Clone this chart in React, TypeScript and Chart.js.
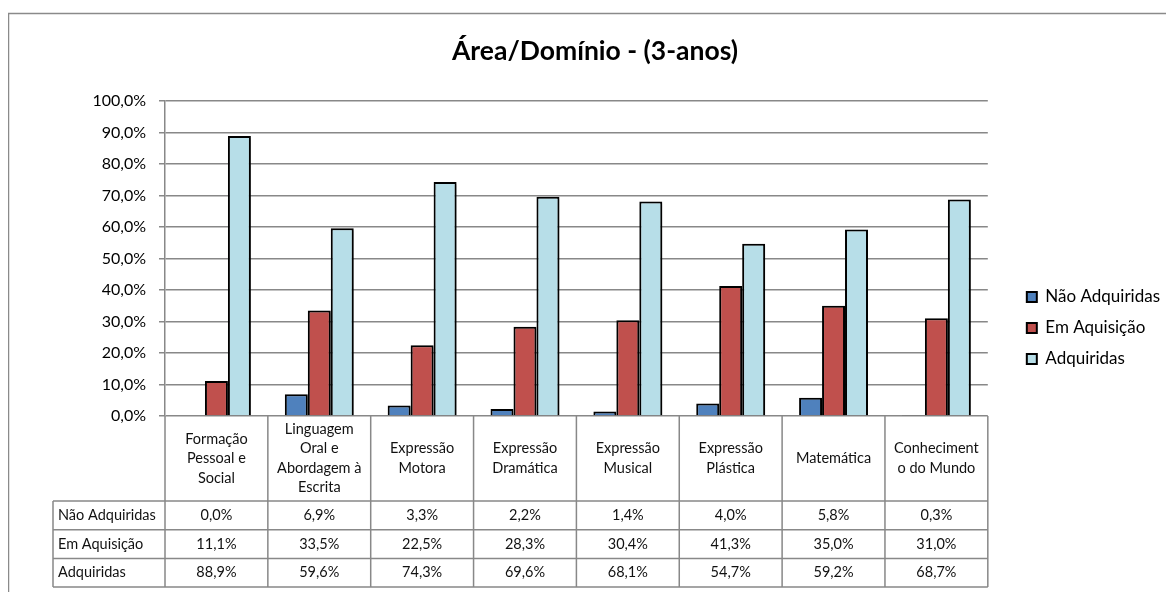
import React, { useEffect, useRef } from "react";
import { Chart, registerables } from "chart.js";

Chart.register(...registerables);

const TITLE = "Área/Domínio - (3-anos)";
const CATEGORIES: string[][] = [
  ["Formação", "Pessoal e", "Social"],
  ["Linguagem", "Oral e", "Abordagem à", "Escrita"],
  ["Expressão", "Motora"],
  ["Expressão", "Dramática"],
  ["Expressão", "Musical"],
  ["Expressão", "Plástica"],
  ["Matemática"],
  ["Conheciment", "o do Mundo"],
];
const SERIES_NAMES = ["Não Adquiridas", "Em Aquisição", "Adquiridas"];
const NAO_ADQUIRIDAS = [0.0, 6.9, 3.3, 2.2, 1.4, 4.0, 5.8, 0.3];
const EM_AQUISICAO = [11.1, 33.5, 22.5, 28.3, 30.4, 41.3, 35.0, 31.0];
const ADQUIRIDAS = [88.9, 59.6, 74.3, 69.6, 68.1, 54.7, 59.2, 68.7];
const SERIES_COLORS = ["#4F81BD", "#C0504D", "#B7DEE8"];

const FONT = "Lato, 'Open Sans', sans-serif";
const GRID = "#888888";

const fmt = (v: number) => v.toFixed(1).replace(".", ",") + "%";

const framePlugin = {
  id: "frame",
  beforeDraw(chart: any) {
    const { ctx, width, height } = chart;
    ctx.save();
    ctx.fillStyle = "#ffffff";
    ctx.fillRect(0, 0, width, height);
    ctx.strokeStyle = "#8a8a8a";
    ctx.lineWidth = 1.5;
    ctx.strokeRect(0.5, 5.5, width + 20, height + 20);
    // chart title
    ctx.fillStyle = "#000000";
    ctx.font = `bold 26.5px ${FONT}`;
    ctx.textAlign = "center";
    ctx.textBaseline = "middle";
    ctx.fillText(TITLE, 587, 43);
    ctx.restore();
  },
};

const shadowPlugin = {
  id: "barShadow",
  beforeDatasetsDraw(chart: any) {
    const ctx = chart.ctx;
    ctx.save();
    ctx.shadowColor = "rgba(0,0,0,0.35)";
    ctx.shadowBlur = 3;
    ctx.shadowOffsetX = 2;
    ctx.shadowOffsetY = 2;
  },
  afterDatasetsDraw(chart: any) {
    chart.ctx.restore();
  },
};

const tablePlugin = {
  id: "dataTable",
  afterDraw(chart: any) {
    const { ctx, chartArea } = chart;
    const series = [NAO_ADQUIRIDAS, EM_AQUISICAO, ADQUIRIDAS];
    const n = CATEGORIES.length;
    const catW = (chartArea.right - chartArea.left) / n;
    const top = chartArea.bottom;
    const headerBottom = top + 85;
    const rowH = 28.7;
    const labelLeft = 45;
    const tableBottom = headerBottom + rowH * 3;

    ctx.save();
    ctx.strokeStyle = GRID;
    ctx.lineWidth = 1.5;
    ctx.beginPath();
    for (let i = 0; i <= n; i++) {
      const x = chartArea.left + i * catW;
      ctx.moveTo(x, top);
      ctx.lineTo(x, tableBottom);
    }
    ctx.moveTo(labelLeft, headerBottom);
    ctx.lineTo(labelLeft, tableBottom);
    for (let r = 0; r <= 3; r++) {
      const y = headerBottom + r * rowH;
      ctx.moveTo(labelLeft, y);
      ctx.lineTo(chartArea.right, y);
    }
    ctx.stroke();

    ctx.fillStyle = "#111111";
    ctx.font = `14.5px ${FONT}`;
    ctx.textAlign = "center";
    ctx.textBaseline = "middle";
    const lh = 19.5;
    const hc = (top + headerBottom) / 2;
    CATEGORIES.forEach((lines, i) => {
      const cx = chartArea.left + (i + 0.5) * catW;
      const y0 = hc - ((lines.length - 1) * lh) / 2;
      lines.forEach((t, j) => ctx.fillText(t, cx, y0 + j * lh));
    });

    series.forEach((vals, r) => {
      const cy = headerBottom + (r + 0.5) * rowH;
      ctx.textAlign = "left";
      ctx.fillText(SERIES_NAMES[r], labelLeft + 5, cy);
      ctx.textAlign = "center";
      vals.forEach((v, i) => {
        const cx = chartArea.left + (i + 0.5) * catW;
        ctx.fillText(fmt(v), cx, cy);
      });
    });
    ctx.restore();
  },
};

export default function App() {
  const ref = useRef<HTMLCanvasElement | null>(null);

  useEffect(() => {
    document.documentElement.style.overflow = "hidden";
    const canvas = ref.current;
    if (!canvas) return;
    const chart = new Chart(canvas, {
      type: "bar",
      data: {
        labels: CATEGORIES.map((c) => c.join(" ")),
        datasets: [NAO_ADQUIRIDAS, EM_AQUISICAO, ADQUIRIDAS].map((d, i) => ({
          label: SERIES_NAMES[i],
          data: d,
          backgroundColor: SERIES_COLORS[i],
          borderColor: "#000000",
          borderWidth: 2,
          categoryPercentage: 0.67,
          barPercentage: 1.0,
        })),
      },
      options: {
        responsive: false,
        animation: false,
        devicePixelRatio: 1,
        layout: { padding: { left: 0, right: 4, top: 93, bottom: 0 } },
        plugins: {
          title: { display: false },
          legend: {
            position: "right",
            align: "start",
            title: {
              display: true,
              text: "",
              font: { size: 10 },
              padding: { top: 80, bottom: 81.5 },
            },
            labels: {
              boxWidth: 10,
              boxHeight: 10,
              padding: 14,
              color: "#000000",
              font: { family: FONT, size: 17 },
            },
          },
          tooltip: { enabled: false },
        },
        scales: {
          x: {
            grid: { display: false },
            border: { display: false },
            ticks: { display: false },
            afterFit: (s: any) => {
              s.height = 176;
            },
          },
          y: {
            min: 0,
            max: 100,
            ticks: {
              stepSize: 10,
              padding: 13,
              color: "#000000",
              font: { family: FONT, size: 16 },
              callback: (v: any) => fmt(Number(v)),
            },
            grid: { color: GRID, lineWidth: 1.5, tickLength: 6 },
            border: { color: GRID, width: 1.5 },
            afterFit: (s: any) => {
              s.width = 157;
            },
          },
          spacer: {
            type: "linear",
            position: "right",
            display: true,
            grid: { display: false, drawTicks: false },
            border: { display: false },
            ticks: { display: false },
            afterFit: (s: any) => {
              s.width = 25;
            },
          },
        },
      },
      plugins: [framePlugin, shadowPlugin, tablePlugin],
    });
    return () => chart.destroy();
  }, []);

  return (
    <div style={{ width: 1166, height: 584 }}>
      <canvas ref={ref} width={1166} height={584} style={{ display: "block" }} />
    </div>
  );
}
